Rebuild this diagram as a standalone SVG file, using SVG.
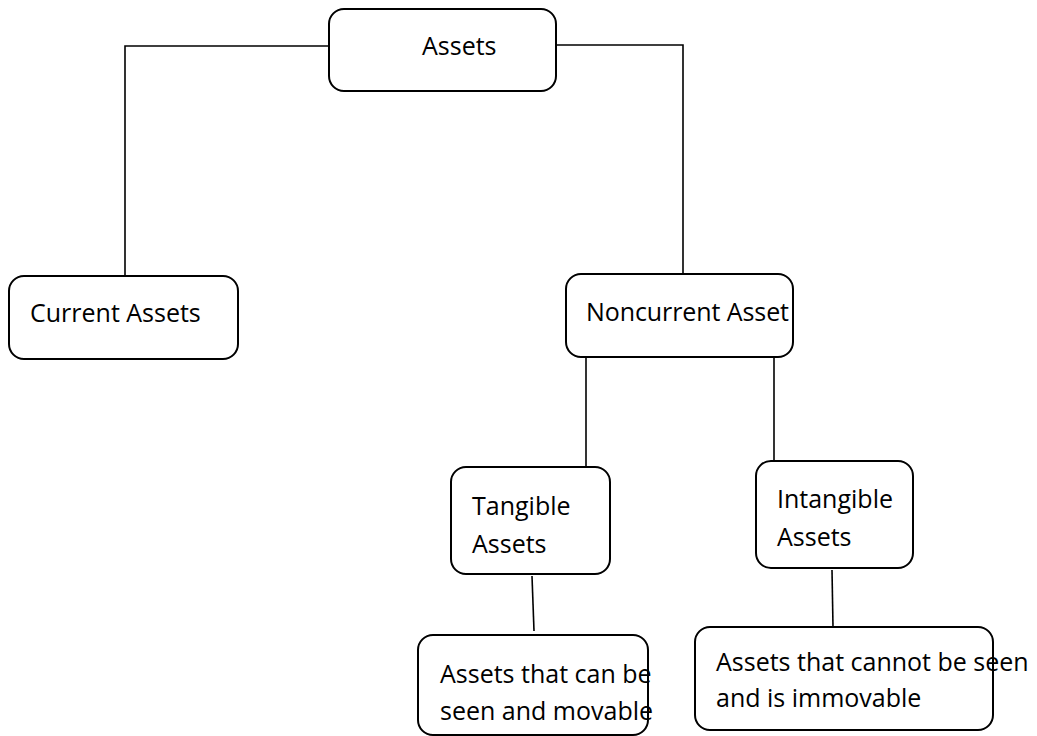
<svg xmlns="http://www.w3.org/2000/svg" width="1037" height="736" viewBox="0 0 1037 736">
<style>
.box{fill:#fff;stroke:#000;stroke-width:2}
.ln{fill:none;stroke:#000;stroke-width:1.6}
text{font-family:"Open Sans","Noto Sans",sans-serif;font-size:25px;fill:#000}
</style>
<rect width="1037" height="736" fill="#fff"/>
<g id="connectors">
<polyline class="ln" points="329,46 125,46 125,276"/>
<polyline class="ln" points="556,45 683,45 683,274"/>
<line class="ln" x1="586" y1="357" x2="586" y2="467"/>
<line class="ln" x1="774" y1="357" x2="774" y2="461"/>
<line class="ln" x1="532" y1="576" x2="534" y2="631"/>
<line class="ln" x1="832" y1="570" x2="833" y2="627"/>
</g>
<g id="assets">
<rect class="box" x="329" y="9" width="227" height="82" rx="15"/>
<text x="422" y="55">Assets</text>
</g>
<g id="current">
<rect class="box" x="9" y="276" width="229" height="83" rx="15"/>
<text x="30" y="322">Current Assets</text>
</g>
<g id="noncurrent">
<rect class="box" x="566" y="274" width="227" height="83" rx="15"/>
<text x="586" y="321" textLength="203" lengthAdjust="spacing">Noncurrent Asset</text>
</g>
<g id="tangible">
<rect class="box" x="451" y="467" width="159" height="107" rx="15"/>
<text x="472" y="515">Tangible</text>
<text x="472" y="553">Assets</text>
</g>
<g id="intangible">
<rect class="box" x="756" y="461" width="157" height="107" rx="15"/>
<text x="777" y="508">Intangible</text>
<text x="777" y="546">Assets</text>
</g>
<g id="tangible-desc">
<rect class="box" x="418" y="635" width="230" height="100" rx="15"/>
<text x="440" y="683">Assets that can be</text>
<text x="440" y="720">seen and movable</text>
</g>
<g id="intangible-desc">
<rect class="box" x="695" y="627" width="298" height="103" rx="15"/>
<text x="716" y="671">Assets that cannot be seen</text>
<text x="716" y="707">and is immovable</text>
</g>
</svg>
